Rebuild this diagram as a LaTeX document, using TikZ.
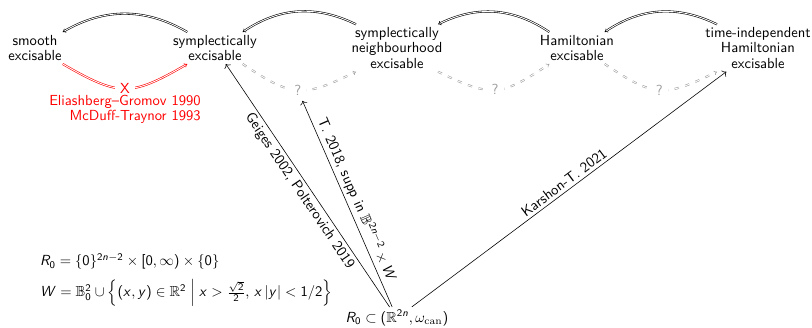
\documentclass[tikz,border=0pt]{standalone}
\usepackage{amsmath,amssymb}
\usetikzlibrary{arrows.meta,positioning}
% sans serif letters and digits in math
\DeclareSymbolFont{sfletters}{OT1}{cmss}{m}{sl}
\DeclareSymbolFont{operators}{OT1}{cmss}{m}{n}
\DeclareMathSymbol{R}{\mathalpha}{sfletters}{`R}
\DeclareMathSymbol{W}{\mathalpha}{sfletters}{`W}
\DeclareMathSymbol{n}{\mathalpha}{sfletters}{`n}
\DeclareMathSymbol{x}{\mathalpha}{sfletters}{`x}
\DeclareMathSymbol{y}{\mathalpha}{sfletters}{`y}
\definecolor{faint}{gray}{0.62}

\begin{document}
\begin{tikzpicture}[
  x=0.0241cm, y=0.0241cm, line width=.4pt,
  stt/.style={align=center, font=\sffamily\fontsize{10}{10.5}\selectfont, inner sep=2pt},
  imp/.style={double, -{Implies}},
  nogo/.style={imp, draw=red},
  open/.style={imp, draw=faint, dash pattern=on 3pt off 4.5pt},
  low/.style={bend right, looseness=1.35},
  ref/.style={->},
  cite/.style={font=\sffamily, sloped, inner sep=2pt},
  qmark/.style={font=\sffamily, text=faint, fill=white, inner sep=3.5pt},
]
  \useasboundingbox (0,0) rectangle (812,327);

  % Excision properties, row at the top.
  \def\yrow{279}
  \node[stt] (smooth) at (35,\yrow) {smooth\\excisable};
  \node[stt] (symp) at (215,\yrow) {symplectically\\excisable};
  \node[stt] (nbhd) at (397,\yrow) {symplectically\\neighbourhood\\excisable};
  \node[stt] (ham) at (577,\yrow) {Hamiltonian\\excisable};
  \node[stt] (tiham) at (758,\yrow) {time-independent\\Hamiltonian\\excisable};
  \node[stt] (ray) at (397,9) {$R_0\subset(\mathbb{R}^{2n},\omega_{\textrm{can}})$};

  % Known implications (top) and open questions (bottom).
  \draw[imp] (symp) to[bend right] (smooth);
  \draw[imp] (nbhd) to[bend right] (symp);
  \draw[imp] (ham) to[bend right] (nbhd);
  \draw[imp] (tiham) to[bend right] (ham);
  \draw[nogo] (smooth) to[low] node[qmark, text=red] (nx) {X} (symp);
  \node[stt, text=red, align=right, below=-5pt of nx] (egmt)
    {Eliashberg--Gromov 1990\\McDuff-Traynor 1993};
  \draw[open] (symp) to[low] node[qmark] (q1) {?} (nbhd);
  \draw[open] (nbhd) to[low] node[qmark] (q2) {?} (ham);
  \draw[open] (ham) to[low] node[qmark] (q3) {?} (tiham);

  % Results for the ray.
  \draw[ref] (ray) -- node[cite, below] {Geiges 2002, Polterovich 2019} (symp);
  \draw[ref] (ray) -- node[cite, above] {T. 2018, supp in $\mathbb{B}^{2n-2}\times W$} (q1);
  \draw[ref] (ray) -- node[cite, above] {Karshon-T. 2021} (tiham);

  \node[font=\sffamily, align=left, anchor=west] (defs) at (35,47)
    {$R_0=\{0\}^{2n-2}\times[0,\infty)\times\{0\}$\\[6pt]
     $W=\mathbb{B}^2_0\cup\left\{(x,y)\in\mathbb{R}^2 \;\middle|\; x>\frac{\sqrt{2}}{2},\, x\,|y|<1/2\right\}$};
\end{tikzpicture}
\end{document}
